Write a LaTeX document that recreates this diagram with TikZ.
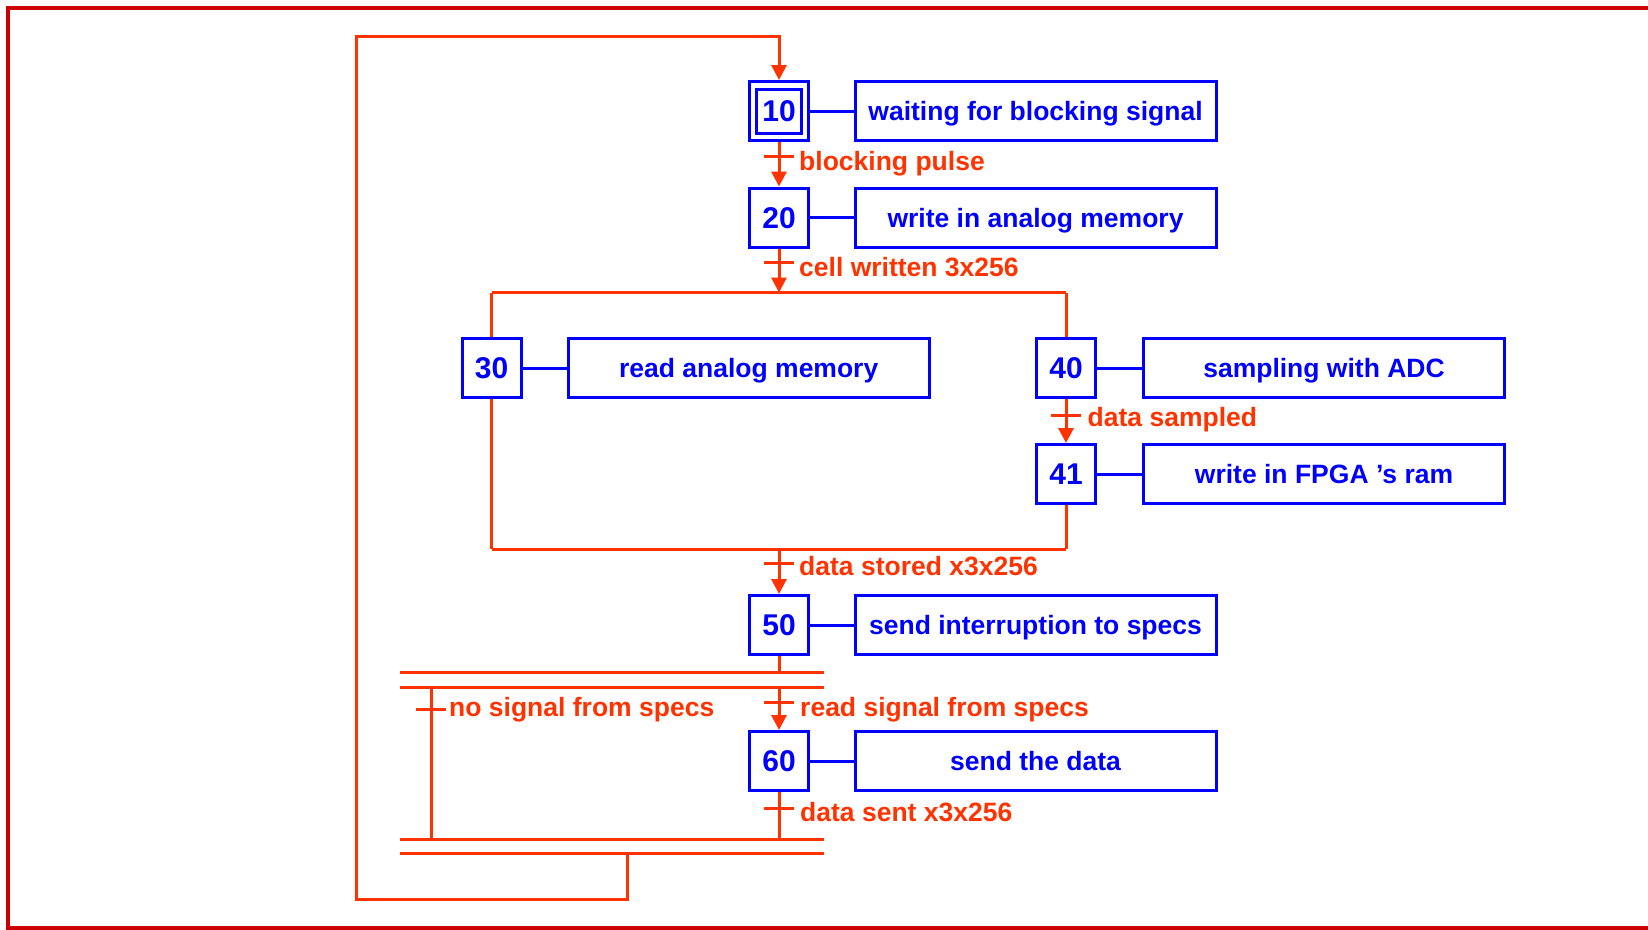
\documentclass[tikz,border=0pt]{standalone}
\usepackage{fontspec}
\setmainfont{Liberation Sans}
\usetikzlibrary{arrows.meta}
\definecolor{stepblue}{RGB}{0,0,255}
\definecolor{flowred}{RGB}{255,51,0}
\definecolor{framered}{RGB}{204,0,0}

\begin{document}
\begin{tikzpicture}[x=1pt,y=-1pt,
  stepbox/.style={draw=stepblue, line width=3pt, minimum width=59pt, minimum height=59pt,
    inner sep=0pt, text=stepblue, font=\fontsize{30}{32}\selectfont\bfseries,
    text height=21.5pt, text depth=0pt},
  innerbox/.style={draw=stepblue, line width=3pt, minimum width=45pt, minimum height=44pt, inner sep=0pt},
  actbox/.style={draw=stepblue, line width=3pt, minimum width=361pt, minimum height=59pt,
    inner sep=0pt, text=stepblue, font=\fontsize{26.5}{30}\selectfont\bfseries,
    text height=19pt, text depth=0pt},
  link/.style={draw=stepblue, line width=3pt},
  flow/.style={draw=flowred, line width=3pt},
  flowarrow/.style={flow, -{Triangle[length=15pt,width=15pt]}},
  cond/.style={text=flowred, font=\fontsize{26.5}{30}\selectfont\bfseries, anchor=base west, inner sep=0pt},
]
\useasboundingbox (0,0) rectangle (1648,929);
\clip (0,0) rectangle (1648,929);

% outer frame
\draw[framered, line width=4pt] (1700,8) -- (8,8) -- (8,928) -- (1700,928);

% steps
\node[stepbox] (s10) at (779,111) {10};
\node[innerbox] (s10in) at (779,111) {};
\node[stepbox] (s20) at (779,217.5) {20};
\node[stepbox] (s30) at (491.5,368) {30};
\node[stepbox] (s40) at (1066,368) {40};
\node[stepbox] (s41) at (1066,474) {41};
\node[stepbox] (s50) at (779,625) {50};
\node[stepbox] (s60) at (779,761) {60};

% actions
\node[actbox] (a10) at (1035.5,111) {waiting for blocking signal};
\node[actbox] (a20) at (1035.5,217.5) {write in analog memory};
\node[actbox] (a30) at (748.7,368) {read analog memory};
\node[actbox] (a40) at (1324,368) {sampling with ADC};
\node[actbox] (a41) at (1324,474) {write in FPGA ’s ram};
\node[actbox] (a50) at (1035.5,625) {send interruption to specs};
\node[actbox] (a60) at (1035.5,761) {send the data};

\foreach \s in {10,20,30,40,41,50,60} {
  \draw[link] (s\s.east) -- (a\s.west);
}

% junction points
\coordinate (div) at (779,292.5);
\coordinate (divL) at (491.5,292.5);
\coordinate (divR) at (1066,292.5);
\coordinate (conv) at (779,549.3);
\coordinate (convL) at (491.5,549.3);
\coordinate (convR) at (1066,549.3);
\coordinate (bar1L) at (400,672.5);
\coordinate (bar1R) at (824,672.5);
\coordinate (bar2L) at (400,687.5);
\coordinate (bar2R) at (824,687.5);
\coordinate (bar3L) at (400,839);
\coordinate (bar3R) at (824,839);
\coordinate (bar4L) at (400,853.7);
\coordinate (bar4R) at (824,853.7);
\coordinate (loopA) at (627.7,853.7);
\coordinate (loopB) at (627.7,899);
\coordinate (loopC) at (356.5,899);
\coordinate (loopD) at (356.5,36.7);
\coordinate (loopE) at (779,36.7);
\coordinate (skipTop) at (431,687.5);
\coordinate (skipBot) at (431,839);

% transition marks
\coordinate (t1) at (779,156.7);
\coordinate (t2) at (779,262.7);
\coordinate (t3) at (1066,415);
\coordinate (t4) at (779,563.3);
\coordinate (t5) at (779,702.7);
\coordinate (t6) at (431,709.3);
\coordinate (t7) at (779,808.3);

% flow lines
\draw[flowarrow] (loopA) -- (loopB) -- (loopC) -- (loopD) -- (loopE) -- (s10.north);
\draw[flowarrow] (s10.south) -- (s20.north);
\draw[flowarrow] (s20.south) -- (div);
\draw[flow] (divL) -- (divR);
\draw[flow] (divL) -- (s30.north);
\draw[flow] (divR) -- (s40.north);
\draw[flowarrow] (s40.south) -- (s41.north);
\draw[flow] (s30.south) -- (convL);
\draw[flow] (s41.south) -- (convR);
\draw[flow] (convL) -- (convR);
\draw[flowarrow] (conv) -- (s50.north);
\draw[flow] (s50.south) -- (s50.south |- bar1L);
\draw[flow] (bar1L) -- (bar1R);
\draw[flow] (bar2L) -- (bar2R);
\draw[flowarrow] (s60.north |- bar2L) -- (s60.north);
\draw[flow] (skipTop) -- (skipBot);
\draw[flow] (s60.south) -- (s60.south |- bar3L);
\draw[flow] (bar3L) -- (bar3R);
\draw[flow] (bar4L) -- (bar4R);

\foreach \t in {t1,t2,t3,t4,t5,t6,t7} {
  \draw[flow] ([xshift=-15pt]\t) -- ([xshift=15pt]\t);
}

% transition conditions
\node[cond] (c1) at (799,170.7) {blocking pulse};
\node[cond] (c2) at (799,276) {cell written 3x256};
\node[cond] (c3) at (1087.5,426) {data sampled};
\node[cond] (c4) at (799,575) {data stored x3x256};
\node[cond] (c5) at (800,716) {read signal from specs};
\node[cond] (c6) at (449,716) {no signal from specs};
\node[cond] (c7) at (800,821.5) {data sent x3x256};
\end{tikzpicture}
\end{document}
